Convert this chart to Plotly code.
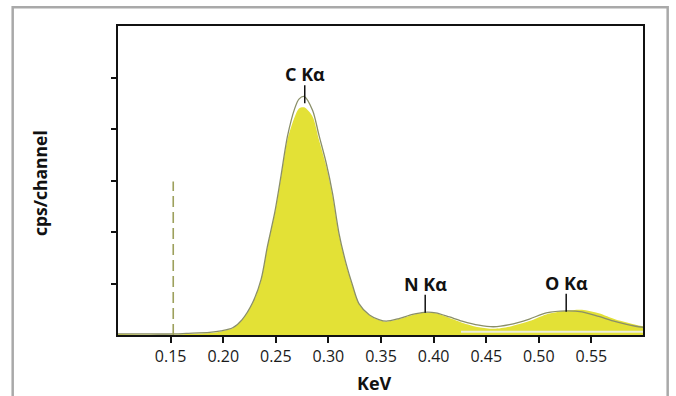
import plotly.graph_objects as go

# ---- data ----
kev = [0.100, 0.130, 0.154, 0.165, 0.187, 0.198, 0.209, 0.218, 0.228, 0.236,
       0.242, 0.249, 0.255, 0.261, 0.268, 0.272, 0.277, 0.285, 0.291, 0.298,
       0.304, 0.310, 0.317, 0.323, 0.329, 0.339, 0.348, 0.355, 0.367, 0.380,
       0.391, 0.402, 0.415, 0.427, 0.443, 0.457, 0.472, 0.491, 0.507, 0.526,
       0.541, 0.557, 0.573, 0.592, 0.599]
fill_counts = [0.02, 0.01, 0.01, 0.02, 0.04, 0.07, 0.13, 0.29, 0.62, 1.07,
               1.71, 2.36, 3.07, 3.79, 4.24, 4.40, 4.42, 4.24, 3.79, 3.27,
               2.69, 1.95, 1.35, 0.95, 0.60, 0.38, 0.29, 0.26, 0.31, 0.39,
               0.43, 0.42, 0.33, 0.24, 0.15, 0.12, 0.16, 0.27, 0.40, 0.47,
               0.49, 0.42, 0.30, 0.20, 0.17]
outline_counts = [0.02, 0.02, 0.02, 0.03, 0.05, 0.08, 0.14, 0.30, 0.63, 1.08,
                  1.72, 2.38, 3.10, 3.85, 4.40, 4.58, 4.63, 4.36, 3.88, 3.33,
                  2.74, 1.98, 1.37, 0.96, 0.61, 0.39, 0.30, 0.27, 0.32, 0.40,
                  0.44, 0.43, 0.35, 0.27, 0.19, 0.16, 0.20, 0.31, 0.43, 0.47,
                  0.45, 0.36, 0.26, 0.17, 0.15]
background_kev = [0.426, 0.599]
background_counts = [0.065, 0.065]

marker_kev = [0.1525, 0.1525]
marker_counts = [0.0, 2.98]

peak_labels = ["C K\u03b1", "N K\u03b1", "O K\u03b1"]
peak_kev = [0.2775, 0.392, 0.526]
peak_base = [4.50, 0.43, 0.45]

x_tickvals = [0.15, 0.20, 0.25, 0.30, 0.35, 0.40, 0.45, 0.50, 0.55]
x_ticktext = ["0.15", "0.20", "0.25", "0.30", "0.35", "0.40", "0.45", "0.50", "0.55"]
y_tickvals = [1, 2, 3, 4, 5]

FONT = "Open Sans"

fig = go.Figure()
fig.add_trace(go.Scatter(x=kev, y=fill_counts, mode="lines", fill="tozeroy",
                         fillcolor="#e3e136", line=dict(width=0, shape="spline", smoothing=0.8),
                         hoverinfo="skip", showlegend=False))
fig.add_trace(go.Scatter(x=background_kev, y=background_counts, mode="lines",
                         line=dict(color="#ecece2", width=2), showlegend=False))
fig.add_trace(go.Scatter(x=kev, y=outline_counts, mode="lines",
                         line=dict(color="#8a8f68", width=1.3, shape="spline", smoothing=0.8),
                         showlegend=False))
fig.add_trace(go.Scatter(x=marker_kev, y=marker_counts, mode="lines",
                         line=dict(color="#9da05c", width=1.6, dash="11px,5px"),
                         showlegend=False))

shapes = []
annotations = []
line_len = 0.35
for lab, xk, yb in zip(peak_labels, peak_kev, peak_base):
    shapes.append(dict(type="line", xref="x", yref="y", x0=xk, x1=xk, y0=yb, y1=yb + line_len,
                       line=dict(color="#111111", width=1.5)))
    annotations.append(dict(x=xk, y=yb + line_len, xref="x", yref="y", text="<b>" + lab + "</b>",
                            showarrow=False, yanchor="bottom", yshift=-3,
                            font=dict(family=FONT, size=18, color="#111111")))

# outer frame
shapes.append(dict(type="rect", xref="paper", yref="paper", x0=-0.2006, x1=1.047,
                   y0=-0.3, y1=1.0605, line=dict(color="#a9a9a9", width=2.5), layer="below"))

annotations.append(dict(x=-0.1486, y=0.492, xref="paper", yref="paper", text="<b>cps/channel</b>",
                        textangle=-90, showarrow=False, xanchor="center", yanchor="middle",
                        font=dict(family=FONT, size=17.5, color="#111111")))
annotations.append(dict(x=0.4895, y=-0.155, xref="paper", yref="paper", text="<b>KeV</b>",
                        showarrow=False, xanchor="center", yanchor="middle",
                        font=dict(family=FONT, size=18, color="#111111")))

fig.update_layout(
    width=676, height=396, autosize=False,
    margin=dict(l=118, r=33, t=26, b=61, pad=0),
    paper_bgcolor="white", plot_bgcolor="white",
    shapes=shapes, annotations=annotations,
    xaxis=dict(range=[0.1, 0.599], tickvals=x_tickvals, ticktext=x_ticktext,
               ticks="outside", ticklen=6, tickwidth=1.5, tickcolor="#111111",
               showline=True, linecolor="#111111", linewidth=2, mirror=True,
               showgrid=False, zeroline=False,
               tickfont=dict(family=FONT, size=16, color="#1a1a1a")),
    yaxis=dict(range=[0, 6], tickvals=y_tickvals, showticklabels=False,
               ticks="outside", ticklen=5, tickwidth=1.5, tickcolor="#111111",
               showline=True, linecolor="#111111", linewidth=2, mirror=True,
               showgrid=False, zeroline=False),
)

fig.write_html("out.html", config={"displayModeBar": False},
               post_script="document.body.style.margin='0';document.body.style.padding='0';")
